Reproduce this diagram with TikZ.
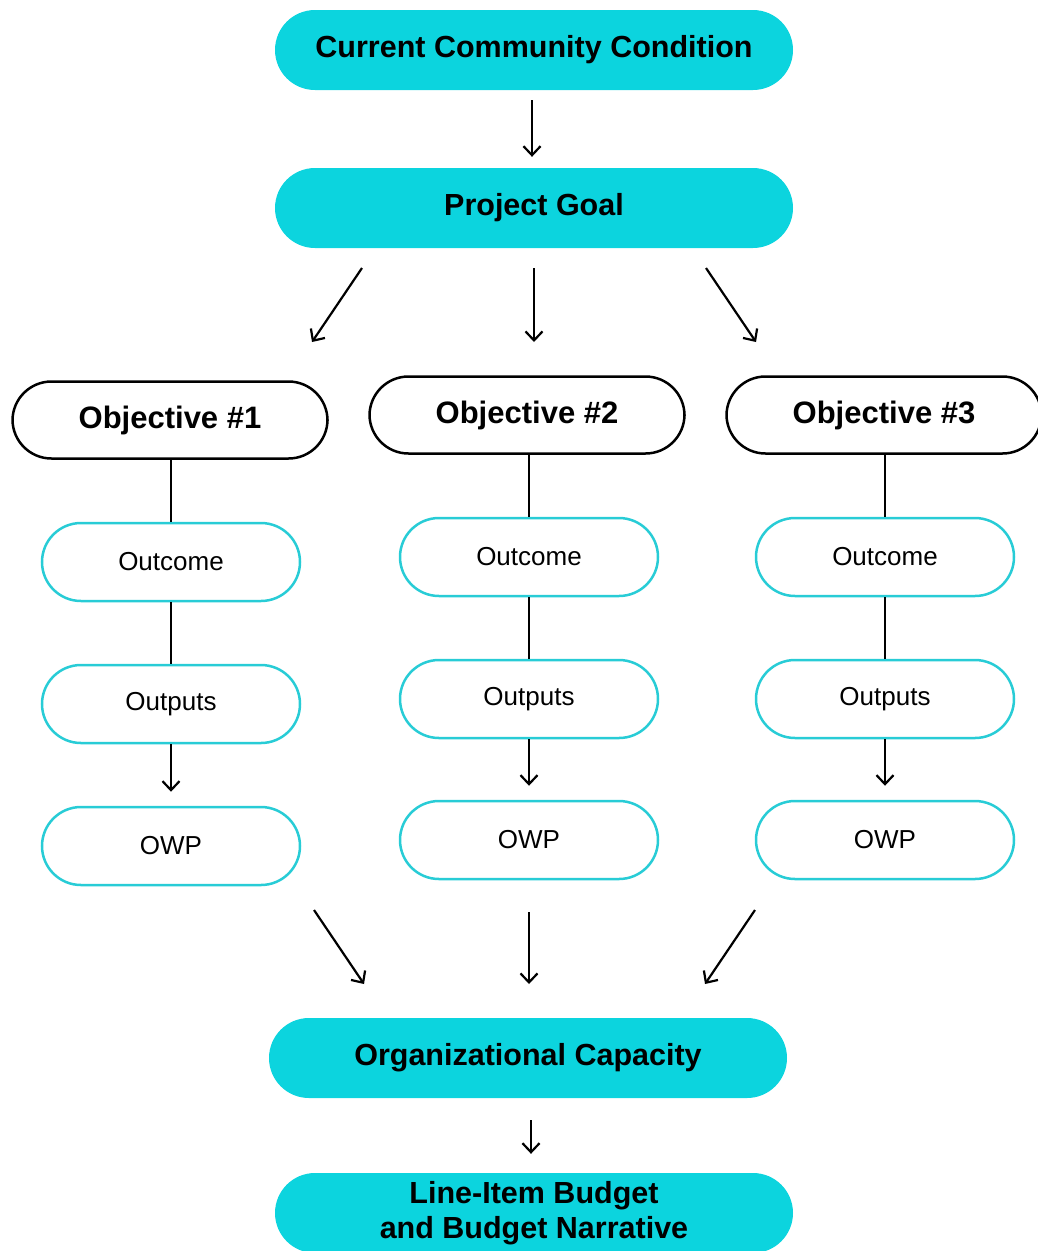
\documentclass[tikz,border=0pt]{standalone}
\usepackage{fontspec}
\setmainfont{Liberation Sans}
\usetikzlibrary{arrows.meta}
\definecolor{cyanf}{RGB}{12,212,222}
\definecolor{cyanl}{RGB}{40,204,214}
\begin{document}
\begin{tikzpicture}[x=1pt,y=-1pt,
 filled/.style={fill=cyanf, rounded corners=40pt, minimum width=518pt, minimum height=80pt, font=\fontsize{30.5}{35}\selectfont\bfseries, inner sep=0pt, align=center},
 objbox/.style={draw=black, fill=white, line width=2.5pt, rounded corners=39pt, minimum width=315pt, minimum height=77pt, inner sep=0pt, font=\fontsize{31}{35}\selectfont\bfseries},
 subbox/.style={draw=cyanl, fill=white, line width=2.5pt, rounded corners=39pt, minimum width=258pt, minimum height=78pt, inner sep=0pt, font=\fontsize{26}{30}\selectfont},
 arr/.style={-{Straight Barb[length=9pt,width=17pt]}, line width=2.2pt},
 link/.style={line width=2.2pt}]
\useasboundingbox (0,0) rectangle (1038,1251);
\begin{scope}
\clip (0,0) rectangle (1038,1251);
% top
\node[filled] (ccc) at (534,50) {Current Community Condition};
\node[filled] (pg) at (534,208) {Project Goal};
% objectives
\node[objbox] (o1) at (170,420) {Objective \#1};
\node[objbox] (o2) at (527,415) {Objective \#2};
\node[objbox] (o3) at (884,415) {Objective \#3};
% column 1
\node[subbox] (oc1) at (171,562) {Outcome};
\node[subbox] (op1) at (171,704) {Outputs};
\node[subbox] (ow1) at (171,846) {OWP};
% column 2
\node[subbox] (oc2) at (529,557) {Outcome};
\node[subbox] (op2) at (529,699) {Outputs};
\node[subbox] (ow2) at (529,840) {OWP};
% column 3
\node[subbox] (oc3) at (885,557) {Outcome};
\node[subbox] (op3) at (885,699) {Outputs};
\node[subbox] (ow3) at (885,840) {OWP};
% bottom
\node[filled] (org) at (528,1058) {Organizational Capacity};
\node[filled] (lib) at (534,1213) {Line-Item Budget\\and Budget Narrative};
\end{scope}
% connectors
\draw[arr, shorten <=10pt, shorten >=11pt] (ccc.south -| 532,0) -- (pg.north -| 532,0);
\coordinate (a1s) at (362,268); \coordinate (a1e) at (312,342);
\coordinate (a2s) at (534,268); \coordinate (a2e) at (534,342);
\coordinate (a3s) at (706,268); \coordinate (a3e) at (756,342);
\draw[arr] (a1s) -- (a1e);
\draw[arr] (a2s) -- (a2e);
\draw[arr] (a3s) -- (a3e);
\draw[link] (o1.south -| oc1) -- (oc1.north);
\draw[link] (oc1.south) -- (op1.north);
\draw[arr, shorten >=14pt] (op1.south) -- (ow1.north);
\draw[link] (o2.south -| oc2) -- (oc2.north);
\draw[link] (oc2.south) -- (op2.north);
\draw[arr, shorten >=14pt] (op2.south) -- (ow2.north);
\draw[link] (o3.south -| oc3) -- (oc3.north);
\draw[link] (oc3.south) -- (op3.north);
\draw[arr, shorten >=14pt] (op3.south) -- (ow3.north);
\coordinate (b1s) at (314,910); \coordinate (b1e) at (364,984);
\coordinate (b2s) at (529,912); \coordinate (b2e) at (529,984);
\coordinate (b3s) at (755,910); \coordinate (b3e) at (705,984);
\draw[arr] (b1s) -- (b1e);
\draw[arr] (b2s) -- (b2e);
\draw[arr] (b3s) -- (b3e);
\draw[arr, shorten <=22pt, shorten >=19pt] (org.south -| 531,0) -- (lib.north -| 531,0);
\end{tikzpicture}
\end{document}
